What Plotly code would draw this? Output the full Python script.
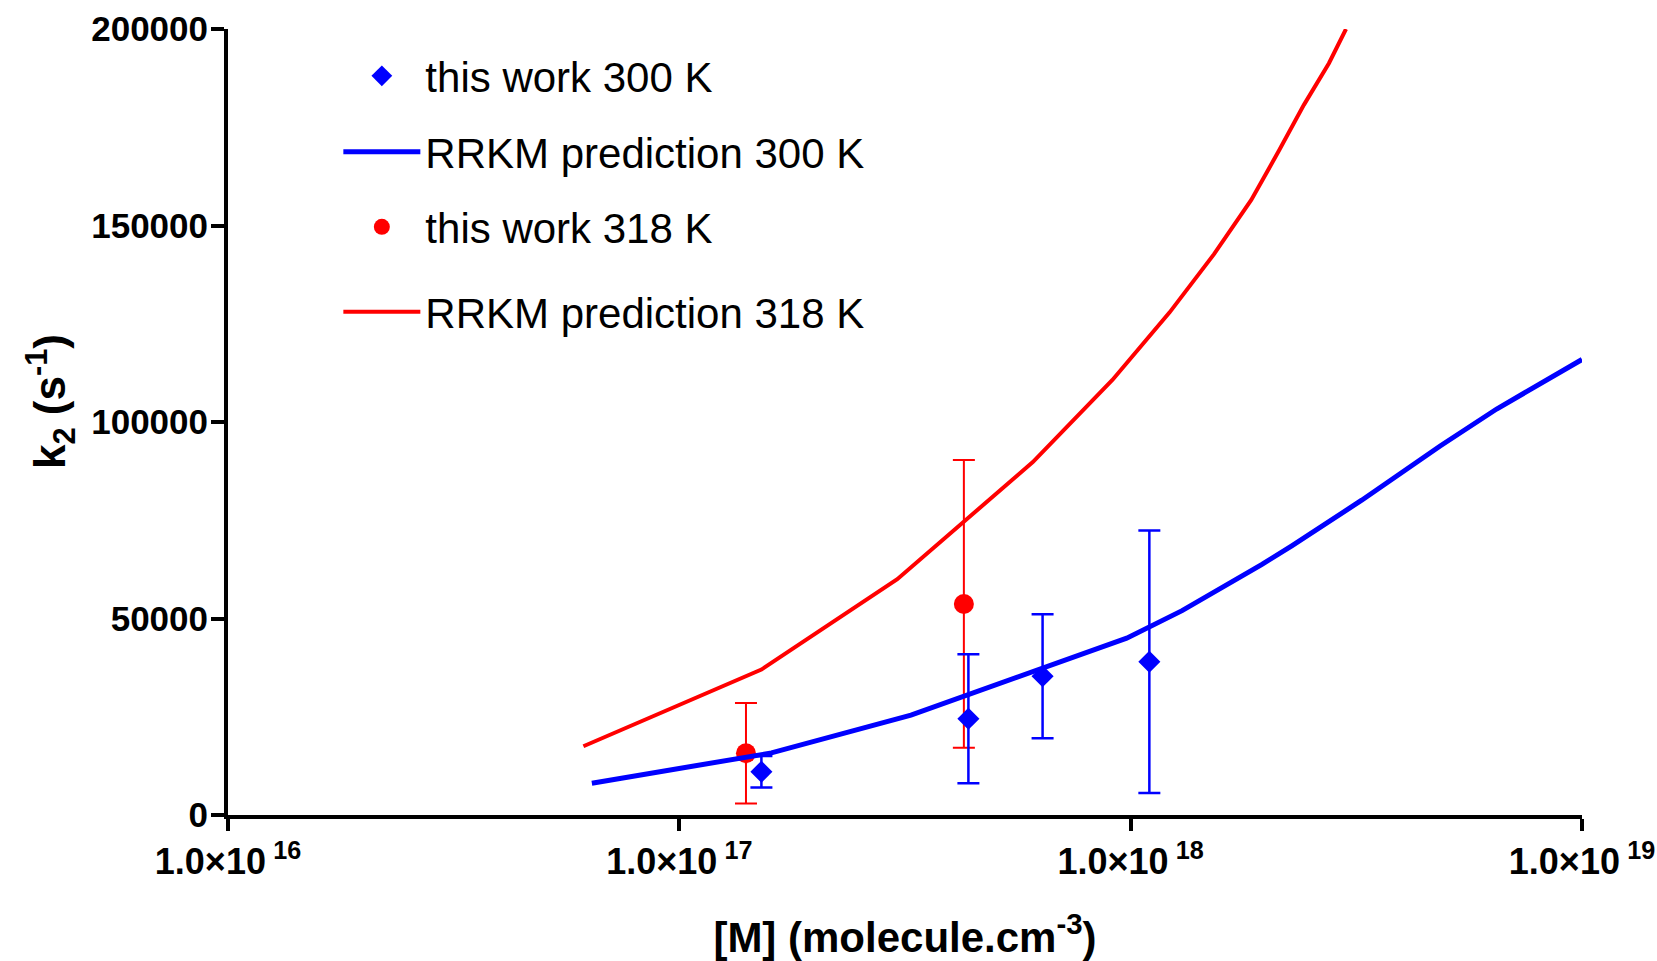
import plotly.graph_objects as go

# ---- data ----
x_300 = [1.52e17, 4.37e17, 6.38e17, 1.10e18]
k_300 = [11000, 24500, 35300, 39000]
err_300 = [4000, 16400, 15800, 33400]

x_318 = [1.405e17, 4.27e17]
k_318 = [15700, 53700]
err_318 = [12800, 36600]

x_rrkm_300 = [6.4e16, 1.6e17, 3.26e17, 9.8e17, 1.30e18, 1.625e18, 1.95e18, 2.275e18,
              2.58e18, 2.94e18, 3.25e18, 4.85e18, 6.47e18, 1.0e19]
k_rrkm_300 = [8100, 15800, 25400, 45000, 52000, 58400, 63700, 68500,
              72700, 76700, 80100, 93900, 103300, 115900]

x_rrkm_318 = [6.13e16, 1.52e17, 3.04e17, 6.07e17, 9.11e17, 1.22e18, 1.53e18, 1.85e18,
              2.13e18, 2.42e18, 2.75e18, 3.0e18]
k_rrkm_318 = [17500, 37000, 60000, 89800, 110700, 127900, 142700, 156500,
              169000, 180700, 191300, 200000]

x_tickvals = [1e16, 1e17, 1e18, 1e19]
x_ticktext = ["1.0×10\u2009<sup>16</sup>", "1.0×10\u2009<sup>17</sup>",
              "1.0×10\u2009<sup>18</sup>", "1.0×10\u2009<sup>19</sup>"]
y_tickvals = [0, 50000, 100000, 150000, 200000]

names = ["this work 300 K", "RRKM prediction 300 K", "this work 318 K", "RRKM prediction 318 K"]

BLUE = "#0000FF"
RED = "#FF0000"
FONT = "Liberation Sans, Arial, sans-serif"

fig = go.Figure()

fig.add_trace(go.Scatter(
    x=x_rrkm_318, y=k_rrkm_318, mode="lines", name=names[3],
    line=dict(color=RED, width=4), legend="legend4"))
fig.add_trace(go.Scatter(
    x=x_318, y=k_318, mode="markers", name=names[2],
    marker=dict(symbol="circle", size=20, color=RED),
    error_y=dict(type="data", array=err_318, color=RED, thickness=2, width=11),
    legend="legend3"))
fig.add_trace(go.Scatter(
    x=x_rrkm_300, y=k_rrkm_300, mode="lines", name=names[1],
    line=dict(color=BLUE, width=5), legend="legend2"))
fig.add_trace(go.Scatter(
    x=x_300, y=k_300, mode="markers", name=names[0],
    marker=dict(symbol="diamond", size=17, color=BLUE),
    error_y=dict(type="data", array=err_300, color=BLUE, thickness=2.5, width=11),
    legend="legend"))

for tr in fig.data:
    tr.showlegend = True

W, H = 1657, 961
ML, MR, MT, MB = 228, 75, 29, 146
plot_w = W - ML - MR
plot_h = H - MT - MB

def ypaper(py):
    return 1 - (py - MT) / plot_h

def xpaper(px):
    return (px - ML) / plot_w

legend_rows = [76, 152, 227, 312]
leg_common = dict(xanchor="left", yanchor="middle", x=0.0815,
                  font=dict(family=FONT, size=42, color="black"),
                  bgcolor="rgba(0,0,0,0)", itemwidth=77)

fig.update_layout(
    width=W, height=H,
    showlegend=True,
    margin=dict(l=ML, r=MR, t=MT, b=MB),
    paper_bgcolor="white", plot_bgcolor="white",
    font=dict(family=FONT, color="black"),
    legend=dict(y=ypaper(legend_rows[0]), **leg_common),
    legend2=dict(y=ypaper(legend_rows[1]), **leg_common),
    legend3=dict(y=ypaper(legend_rows[2]), **leg_common),
    legend4=dict(y=ypaper(legend_rows[3]), **leg_common),
    xaxis=dict(
        type="log", range=[16, 19],
        tickvals=x_tickvals, ticktext=x_ticktext,
        tickfont=dict(family=FONT, size=36, color="black", weight="bold"),
        ticks="outside", ticklen=12, tickwidth=4, tickcolor="black",
        showline=True, linewidth=4, linecolor="black",
        showgrid=False, zeroline=False,
        title=dict(text="[M] (molecule.cm<sup>-3</sup>)",
                   font=dict(family=FONT, size=42, color="black", weight="bold"),
                   standoff=42),
        automargin=False,
    ),
    yaxis=dict(
        range=[0, 200000],
        tickvals=y_tickvals, ticktext=[str(v) for v in y_tickvals],
        tickfont=dict(family=FONT, size=35, color="black", weight="bold"),
        ticks="outside", ticklen=13, tickwidth=4, tickcolor="black",
        ticklabelstandoff=-4,
        showline=True, linewidth=4, linecolor="black",
        showgrid=False, zeroline=False,
        automargin=False,
    ),
    annotations=[dict(
        text="<b>k<sub>2</sub> (s<sup>-1</sup>)</b>",
        xref="paper", yref="paper", x=xpaper(50), y=ypaper(402),
        xanchor="center", yanchor="middle", textangle=-90, showarrow=False,
        font=dict(family=FONT, size=44, color="black"),
    )],
)

fig.write_html("out.html")
